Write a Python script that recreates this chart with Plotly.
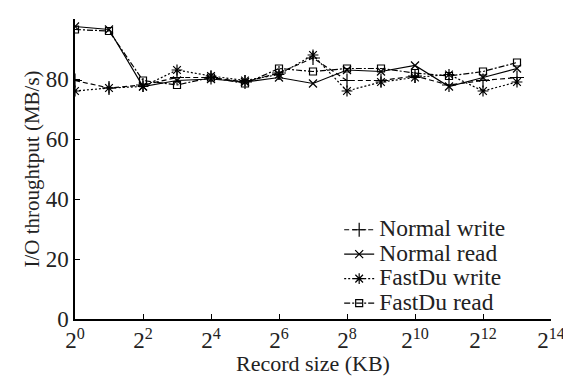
import numpy as np
import plotly.graph_objects as go

record_size_kb = [2 ** k for k in range(14)]
normal_write = [79.5, 77, 78, 80.5, 80.5, 79, 82, 87, 79.5, 79.5, 81, 78, 79.5, 80.5]
normal_read = [97.5, 96.5, 77.5, 79.5, 80, 79, 80.5, 78.5, 83, 82.5, 84.5, 77.5, 80.5, 83.5]
fastdu_write = [76, 77, 77.5, 83, 81, 79.5, 81.5, 88, 76, 79, 80.5, 81.5, 76, 79]
fastdu_read = [96.5, 96, 79.5, 78, 80.5, 78.5, 83.5, 82.5, 83.5, 83.5, 82, 81, 82.5, 85.5]

x_tick_exps = [0, 2, 4, 6, 8, 10, 12, 14]
y_ticks = [0, 20, 40, 60, 80, 100]

series = [
    ("Normal write", normal_write, "5px,3px", "cross-thin-open", 10),
    ("Normal read", normal_read, "solid", "x-thin-open", 8),
    ("FastDu write", fastdu_write, "2px,2px", "asterisk-open", 9),
    ("FastDu read", fastdu_read, "6px,2px,2px,2px", "square-open", 7),
]

fig = go.Figure()
for name, vals, dash, sym, size in series:
    fig.add_trace(go.Scatter(
        x=record_size_kb, y=vals,
        name=f'<span style="font-size:23.5px">{name}</span>',
        mode="lines+markers",
        line=dict(color="black", width=1.2, dash=dash),
        marker=dict(symbol=sym, size=size, color="black",
                    line=dict(color="black", width=1.2)),
    ))

font = "Liberation Serif"
# page body has an 8px default margin, so the figure is drawn 8px smaller
fig.update_layout(
    width=563, height=370,
    margin=dict(l=67, r=20, t=11, b=59),
    paper_bgcolor="white", plot_bgcolor="white",
    font=dict(family=font, size=19, color="#222"),
    showlegend=True,
    legend=dict(x=0.555, y=0.355, xanchor="left", yanchor="top",
                bgcolor="rgba(0,0,0,0)", font=dict(size=16.5, family=font),
                tracegroupgap=0, itemwidth=30),
    xaxis=dict(
        type="log", range=[0, np.log10(2 ** 14)],
        tickvals=[2 ** e for e in x_tick_exps],
        ticktext=[f"2<sup>{e}</sup>" for e in x_tick_exps],
        ticks="inside", ticklen=5, tickwidth=1.2, tickcolor="black",
        showline=True, linecolor="black", linewidth=1.5,
        showgrid=False, zeroline=False, automargin=False,
        tickfont=dict(size=23, family=font),
    ),
    yaxis=dict(
        range=[0, 100], tickvals=y_ticks,
        ticks="inside", ticklen=5, tickwidth=1.2, tickcolor="black",
        showline=True, linecolor="black", linewidth=1.5,
        showgrid=False, zeroline=False, automargin=False,
        tickfont=dict(size=23, family=font),
        title=dict(text="I/O throughtput (MB/s)", font=dict(size=21, family=font), standoff=0),
    ),
    annotations=[dict(
        text="Record size (KB)", xref="paper", yref="paper",
        x=0.5, y=-0.147, xanchor="center", yanchor="middle", showarrow=False,
        font=dict(size=22, family=font, color="#222"),
    )],
)

fig.write_html("out.html")
